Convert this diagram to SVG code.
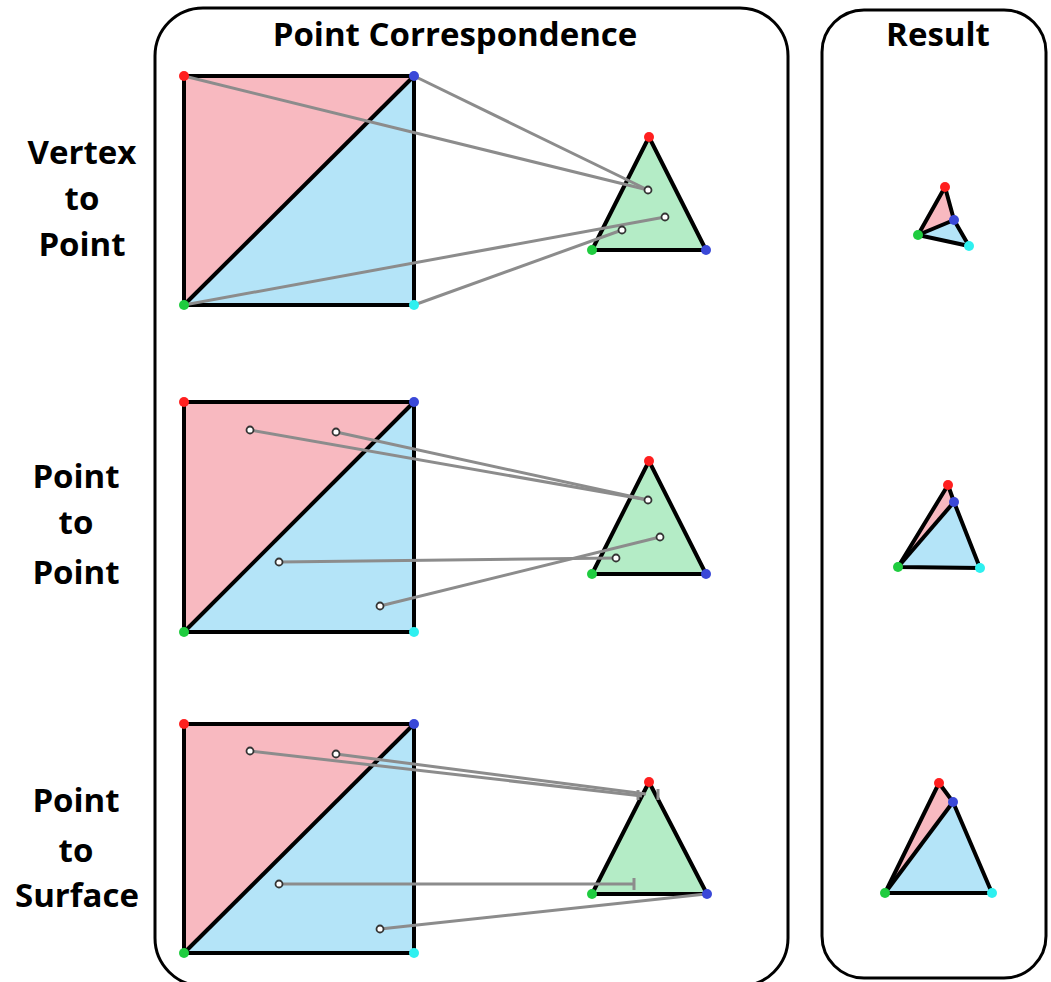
<svg xmlns="http://www.w3.org/2000/svg" width="1051" height="982" viewBox="0 0 1051 982">
<style>
.box{fill:none;stroke:#000;stroke-width:3}
.title{font-family:"Open Sans","Liberation Sans",sans-serif;font-weight:bold;font-size:33px;fill:#000;text-anchor:middle}
.pink{fill:#f8b9c0}
.cyanf{fill:#b4e4f8}
.greenf{fill:#b4ecc6}
.edge{fill:none;stroke:#000;stroke-width:4;stroke-linejoin:round}
.conn{stroke:#8c8c8c;stroke-width:3;fill:none}
.pt{fill:#fff;stroke:#333;stroke-width:1.8}
.vr{fill:#ff1f1f}.vb{fill:#3a48d8}.vg{fill:#1fcc3f}.vc{fill:#2ef0f0}
</style>
<rect width="1051" height="982" fill="#fff"/>
<g id="panel-correspondence">
<rect class="box" x="155" y="8" width="633" height="978" rx="48"/>
<text class="title" x="455" y="46">Point Correspondence</text>
</g>
<g id="panel-result">
<rect class="box" x="822" y="10" width="224" height="968" rx="42"/>
<text class="title" x="938" y="46">Result</text>
</g>
<g id="labels">
<text class="title" x="82" y="164">Vertex</text>
<text class="title" x="82" y="210">to</text>
<text class="title" x="82" y="256">Point</text>
<text class="title" x="76" y="488">Point</text>
<text class="title" x="76" y="534">to</text>
<text class="title" x="76" y="584">Point</text>
<text class="title" x="76" y="812">Point</text>
<text class="title" x="76" y="862">to</text>
<text class="title" x="77" y="907">Surface</text>
</g>
<g id="square1">
<polygon class="pink" points="184,76 414,76 184,305"/>
<polygon class="cyanf" points="414,76 414,305 184,305"/>
<polygon class="edge" points="184,76 414,76 414,305 184,305"/>
<line class="edge" x1="184" y1="305" x2="414" y2="76"/>
</g>
<g id="triangle1">
<polygon class="greenf" points="649,137 706,250 592,250"/>
<polygon class="edge" points="649,137 706,250 592,250"/>
</g>
<g id="square2">
<polygon class="pink" points="184,402 414,402 184,632"/>
<polygon class="cyanf" points="414,402 414,632 184,632"/>
<polygon class="edge" points="184,402 414,402 414,632 184,632"/>
<line class="edge" x1="184" y1="632" x2="414" y2="402"/>
</g>
<g id="triangle2">
<polygon class="greenf" points="649,461 706,574 592,574"/>
<polygon class="edge" points="649,461 706,574 592,574"/>
</g>
<g id="square3">
<polygon class="pink" points="184,724 414,724 184,953"/>
<polygon class="cyanf" points="414,724 414,953 184,953"/>
<polygon class="edge" points="184,724 414,724 414,953 184,953"/>
<line class="edge" x1="184" y1="953" x2="414" y2="724"/>
</g>
<g id="triangle3">
<polygon class="greenf" points="649,782 707,894 592,894"/>
<polygon class="edge" points="649,782 707,894 592,894"/>
</g>
<g id="connectors">
<line class="conn" x1="184" y1="76" x2="648" y2="190"/>
<line class="conn" x1="414" y1="76" x2="648" y2="190"/>
<line class="conn" x1="184" y1="305" x2="665" y2="217"/>
<line class="conn" x1="414" y1="305" x2="622" y2="230"/>
<line class="conn" x1="250" y1="430" x2="648" y2="500"/>
<line class="conn" x1="336" y1="432" x2="648" y2="500"/>
<line class="conn" x1="279" y1="562" x2="616" y2="558"/>
<line class="conn" x1="380" y1="606" x2="660" y2="537"/>
<line class="conn" x1="250" y1="751" x2="642" y2="796"/>
<line class="conn" x1="336" y1="754" x2="646" y2="794"/>
<line class="conn" x1="279" y1="884" x2="634" y2="884"/>
<line class="conn" x1="634" y1="878" x2="634" y2="890" stroke-width="2"/>
<line class="conn" x1="380" y1="929" x2="706" y2="894"/>
<line class="conn" x1="638" y1="790" x2="638" y2="800" stroke="#c8c8c8" stroke-width="2"/>
<line class="conn" x1="658" y1="789" x2="658" y2="800" stroke="#c8c8c8" stroke-width="2"/>
</g>
<g id="points">
<circle class="pt" cx="648" cy="190" r="3.5"/>
<circle class="pt" cx="665" cy="217" r="3.5"/>
<circle class="pt" cx="622" cy="230" r="3.5"/>
<circle class="pt" cx="250" cy="430" r="3.5"/>
<circle class="pt" cx="336" cy="432" r="3.5"/>
<circle class="pt" cx="279" cy="562" r="3.5"/>
<circle class="pt" cx="380" cy="606" r="3.5"/>
<circle class="pt" cx="648" cy="500" r="3.5"/>
<circle class="pt" cx="660" cy="537" r="3.5"/>
<circle class="pt" cx="616" cy="558" r="3.5"/>
<circle class="pt" cx="250" cy="751" r="3.5"/>
<circle class="pt" cx="336" cy="754" r="3.5"/>
<circle class="pt" cx="279" cy="884" r="3.5"/>
<circle class="pt" cx="380" cy="929" r="3.5"/>
</g>
<g id="result1">
<polygon class="pink" points="945,187 954,220 918,235"/>
<polygon class="cyanf" points="954,220 969,246 918,235"/>
<polygon class="edge" points="945,187 954,220 969,246 918,235"/>
<line class="edge" x1="918" y1="235" x2="954" y2="220"/>
</g>
<g id="result2">
<polygon class="pink" points="948,485 954,502 898,567"/>
<polygon class="cyanf" points="954,502 980,568 898,567"/>
<polygon class="edge" points="948,485 954,502 980,568 898,567"/>
<line class="edge" x1="898" y1="567" x2="954" y2="502"/>
</g>
<g id="result3">
<polygon class="pink" points="939,783 953,802 885,893"/>
<polygon class="cyanf" points="953,802 992,893 885,893"/>
<polygon class="edge" points="939,783 953,802 992,893 885,893"/>
<line class="edge" x1="885" y1="893" x2="953" y2="802"/>
</g>
<g id="vertices">
<circle class="vr" cx="184" cy="76" r="5"/><circle class="vb" cx="414" cy="76" r="5"/><circle class="vg" cx="184" cy="305" r="5"/><circle class="vc" cx="414" cy="305" r="5"/>
<circle class="vr" cx="649" cy="137" r="5"/><circle class="vg" cx="592" cy="250" r="5"/><circle class="vb" cx="706" cy="250" r="5"/>
<circle class="vr" cx="184" cy="402" r="5"/><circle class="vb" cx="414" cy="402" r="5"/><circle class="vg" cx="184" cy="632" r="5"/><circle class="vc" cx="414" cy="632" r="5"/>
<circle class="vr" cx="649" cy="461" r="5"/><circle class="vg" cx="592" cy="574" r="5"/><circle class="vb" cx="706" cy="574" r="5"/>
<circle class="vr" cx="184" cy="724" r="5"/><circle class="vb" cx="414" cy="724" r="5"/><circle class="vg" cx="184" cy="953" r="5"/><circle class="vc" cx="414" cy="953" r="5"/>
<circle class="vr" cx="649" cy="782" r="5"/><circle class="vg" cx="592" cy="894" r="5"/><circle class="vb" cx="707" cy="894" r="5"/>
<circle class="vr" cx="945" cy="187" r="5"/><circle class="vb" cx="954" cy="220" r="5"/><circle class="vg" cx="918" cy="235" r="5"/><circle class="vc" cx="969" cy="246" r="5"/>
<circle class="vr" cx="948" cy="485" r="5"/><circle class="vb" cx="954" cy="502" r="5"/><circle class="vg" cx="898" cy="567" r="5"/><circle class="vc" cx="980" cy="568" r="5"/>
<circle class="vr" cx="939" cy="783" r="5"/><circle class="vb" cx="953" cy="802" r="5"/><circle class="vg" cx="885" cy="893" r="5"/><circle class="vc" cx="992" cy="893" r="5"/>
</g>
</svg>
